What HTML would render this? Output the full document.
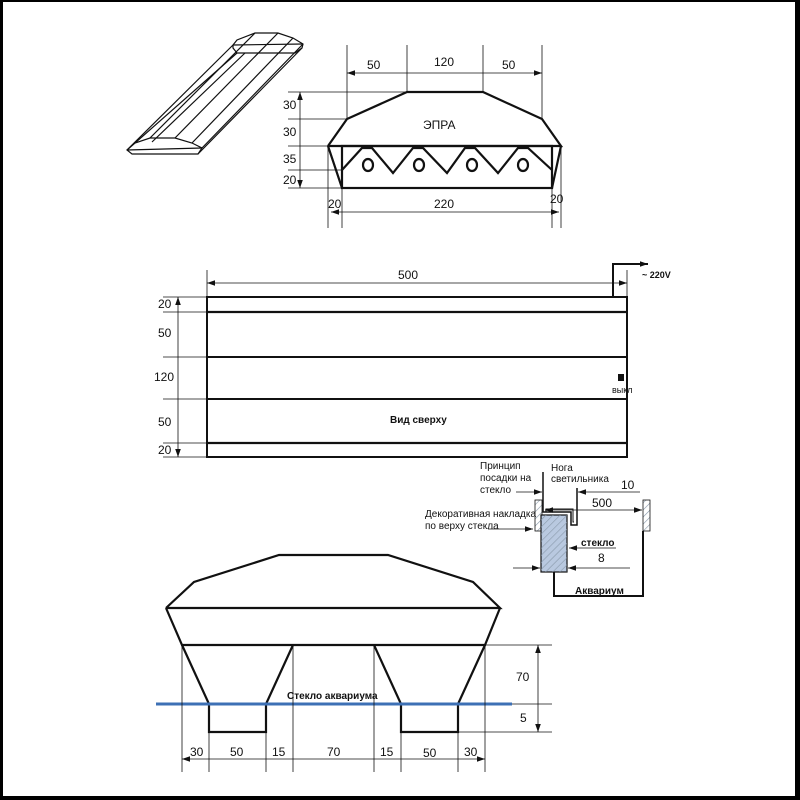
<!DOCTYPE html>
<html><head><meta charset="utf-8"><style>
html,body{margin:0;padding:0;background:#000;}
svg{display:block;}
text{font-family:"Liberation Sans",Arial,sans-serif;fill:#111;}
</style></head><body>
<svg width="800" height="800" viewBox="0 0 800 800" xmlns="http://www.w3.org/2000/svg">
<defs>
<marker id="a" viewBox="0 0 10 10" refX="10" refY="5" markerWidth="8" markerHeight="8" orient="auto-start-reverse" markerUnits="userSpaceOnUse"><path d="M0,1.5 L10,5 L0,8.5 z" fill="#111"/></marker>
<pattern id="h" width="5" height="5" patternUnits="userSpaceOnUse" patternTransform="rotate(45)"><line x1="0" y1="0" x2="0" y2="5" stroke="#8899aa" stroke-width="1.2"/></pattern>
</defs>
<rect x="0" y="0" width="800" height="800" fill="#000"/>
<rect x="3" y="2" width="792" height="794" fill="#fff"/>

<!-- isometric -->
<g fill="none" stroke="#111" stroke-width="1.2">
<polygon points="127,150 135,143 150,138 175,138 192,143 202,148 198,154 132,154"/>
<line x1="127" y1="150" x2="202" y2="148"/>
<polygon points="233,45 237,40 255,33 278,33 293,38 303,44 302,48 295,53 237,53 233,48"/>
<line x1="233" y1="45" x2="303" y2="44"/>
<line x1="127" y1="150" x2="233" y2="45"/>
<line x1="150" y1="138" x2="255" y2="33"/>
<line x1="175" y1="138" x2="278" y2="33"/>
<line x1="192" y1="143" x2="293" y2="38"/>
<line x1="202" y1="148" x2="303" y2="44"/>
<line x1="198" y1="154" x2="302" y2="48"/>
<line x1="135" y1="143" x2="237" y2="53"/>
<line x1="152" y1="142" x2="245" y2="53"/>
</g>

<!-- side view ЭПРА -->
<g fill="none" stroke="#111" stroke-width="2.2">
<polyline points="328,146 347,119 407,92 483,92 542,119 561,146 328,146"/>
<line x1="328" y1="146" x2="342" y2="188"/>
<line x1="561" y1="146" x2="552" y2="188"/>
<rect x="342" y="146" width="210" height="42"/>
<polyline points="342,170 362,148 372,148 393,173 413,148 423,148 447,173 465,148 475,148 498,173 518,148 528,148 552,170"/>
<ellipse cx="368" cy="165" rx="5" ry="6"/><ellipse cx="419" cy="165" rx="5" ry="6"/>
<ellipse cx="472" cy="165" rx="5" ry="6"/><ellipse cx="523" cy="165" rx="5" ry="6"/>
</g>
<g stroke="#111" stroke-width="0.8" fill="none">
<line x1="347" y1="45" x2="347" y2="119"/><line x1="407" y1="45" x2="407" y2="92"/>
<line x1="483" y1="45" x2="483" y2="92"/><line x1="542" y1="45" x2="542" y2="119"/>
<line x1="347" y1="73" x2="542" y2="73" marker-start="url(#a)" marker-end="url(#a)"/>
<line x1="288" y1="92" x2="407" y2="92"/><line x1="288" y1="119" x2="347" y2="119"/>
<line x1="288" y1="146" x2="328" y2="146"/><line x1="288" y1="170" x2="342" y2="170"/>
<line x1="288" y1="188" x2="342" y2="188"/>
<line x1="300" y1="92" x2="300" y2="188" marker-start="url(#a)" marker-end="url(#a)"/>
<line x1="328" y1="146" x2="328" y2="228"/><line x1="342" y1="188" x2="342" y2="228"/>
<line x1="552" y1="188" x2="552" y2="228"/><line x1="561" y1="146" x2="561" y2="228"/>
<line x1="331" y1="212" x2="559" y2="212" marker-start="url(#a)" marker-end="url(#a)"/>
</g>
<g font-size="12">
<text x="367" y="69">50</text><text x="434" y="66">120</text><text x="502" y="69">50</text>
<text x="283" y="109">30</text><text x="283" y="136">30</text><text x="283" y="163">35</text><text x="283" y="184">20</text>
<text x="328" y="208">20</text><text x="434" y="208">220</text><text x="550" y="203">20</text>
<text x="423" y="129">ЭПРА</text>
</g>

<!-- top view -->
<g fill="none" stroke="#111">
<rect x="207" y="297" width="420" height="160" stroke-width="2"/>
<line x1="207" y1="312" x2="627" y2="312" stroke-width="2.2"/>
<line x1="207" y1="357" x2="627" y2="357" stroke-width="2"/>
<line x1="207" y1="399" x2="627" y2="399" stroke-width="2"/>
<line x1="207" y1="443" x2="627" y2="443" stroke-width="2.2"/>
<polyline points="613,297 613,264 648,264" stroke-width="2" marker-end="url(#a)"/>
</g>
<g stroke="#111" stroke-width="0.8" fill="none">
<line x1="207" y1="270" x2="207" y2="297"/><line x1="627" y1="270" x2="627" y2="297"/>
<line x1="207" y1="283" x2="627" y2="283" marker-start="url(#a)" marker-end="url(#a)"/>
<line x1="163" y1="297" x2="207" y2="297"/><line x1="163" y1="312" x2="207" y2="312"/>
<line x1="163" y1="357" x2="207" y2="357"/><line x1="163" y1="399" x2="207" y2="399"/>
<line x1="163" y1="443" x2="207" y2="443"/><line x1="163" y1="457" x2="207" y2="457"/>
<line x1="178" y1="297" x2="178" y2="457" marker-start="url(#a)" marker-end="url(#a)"/>
</g>
<rect x="618" y="374" width="6" height="7" fill="#111"/>
<g font-size="12">
<text x="398" y="279">500</text>
<text x="158" y="308">20</text><text x="158" y="337">50</text><text x="154" y="381">120</text>
<text x="158" y="426">50</text><text x="158" y="454">20</text>
</g>
<text x="642" y="278" font-size="9" font-weight="bold">~ 220V</text>
<text x="612" y="393" font-size="9">выкл</text>
<text x="390" y="423" font-size="10" font-weight="bold">Вид сверху</text>

<!-- detail -->
<g font-size="10">
<text x="480" y="469">Принцип</text><text x="480" y="481">посадки на</text><text x="480" y="493">стекло</text>
<text x="551" y="471">Нога</text><text x="551" y="482">светильника</text>
<text x="621" y="489" font-size="12">10</text>
<text x="592" y="507" font-size="12">500</text>
<text x="425" y="517">Декоративная накладка</text><text x="425" y="529">по верху стекла</text>
<text x="598" y="562" font-size="12">8</text>
</g>
<text x="581" y="546" font-size="10" font-weight="bold">стекло</text>
<text x="575" y="594" font-size="10" font-weight="bold">Аквариум</text>
<rect x="535" y="500" width="7" height="31" fill="url(#h)" stroke="#111" stroke-width="0.8"/>
<rect x="643" y="500" width="7" height="31" fill="url(#h)" stroke="#111" stroke-width="0.8"/>
<rect x="541" y="515" width="26" height="57" fill="#b9c9e0" stroke="#111" stroke-width="1.2"/>
<rect x="541" y="515" width="26" height="57" fill="url(#h)"/>
<g fill="none" stroke="#111">
<polyline points="543,472 543,512 571,512 571,525 577,525 577,488" stroke-width="1.5"/>
<polyline points="546,512 546,509 573,509 573,522 574,522" stroke-width="1"/>
<polyline points="554,572 554,596 643,596 643,531" stroke-width="2"/>
</g>
<g stroke="#111" stroke-width="0.8" fill="none">
<line x1="516" y1="492" x2="542" y2="492" marker-end="url(#a)"/>
<line x1="640" y1="492" x2="578" y2="492" marker-end="url(#a)"/>
<line x1="545" y1="510" x2="642" y2="510" marker-start="url(#a)" marker-end="url(#a)"/>
<line x1="488" y1="529" x2="533" y2="529" marker-end="url(#a)"/>
<line x1="616" y1="548" x2="569" y2="548" marker-end="url(#a)"/>
<line x1="513" y1="568" x2="540" y2="568" marker-end="url(#a)"/>
<line x1="630" y1="568" x2="568" y2="568" marker-end="url(#a)"/>
</g>

<!-- bottom front view -->
<g fill="none" stroke="#111" stroke-width="2.2">
<polyline points="166,608 194,582 279,555 388,555 473,582 500,608 166,608"/>
<polyline points="166,608 182,645 485,645 500,608"/>
<polyline points="182,645 209,704 209,732 266,732 266,704 293,645"/>
<polyline points="374,645 401,704 401,732 458,732 458,704 485,645"/>
</g>
<line x1="156" y1="704" x2="512" y2="704" stroke="#3d70b5" stroke-width="3"/>
<text x="287" y="699" font-size="10" font-weight="bold">Стекло аквариума</text>
<g stroke="#111" stroke-width="0.8" fill="none">
<line x1="485" y1="645" x2="552" y2="645"/><line x1="512" y1="704" x2="552" y2="704"/>
<line x1="458" y1="732" x2="552" y2="732"/>
<line x1="538" y1="645" x2="538" y2="732" marker-start="url(#a)" marker-end="url(#a)"/>
<line x1="182" y1="645" x2="182" y2="772"/><line x1="209" y1="732" x2="209" y2="772"/>
<line x1="266" y1="732" x2="266" y2="772"/><line x1="293" y1="645" x2="293" y2="772"/>
<line x1="374" y1="645" x2="374" y2="772"/><line x1="401" y1="732" x2="401" y2="772"/>
<line x1="458" y1="732" x2="458" y2="772"/><line x1="485" y1="645" x2="485" y2="772"/>
<line x1="182" y1="759" x2="485" y2="759" marker-start="url(#a)" marker-end="url(#a)"/>
</g>
<g font-size="12">
<text x="516" y="681">70</text><text x="520" y="722">5</text>
<text x="190" y="756">30</text><text x="230" y="756">50</text><text x="272" y="756">15</text>
<text x="327" y="756">70</text><text x="380" y="756">15</text><text x="423" y="757">50</text><text x="464" y="756">30</text>
</g>
</svg>
</body></html>
